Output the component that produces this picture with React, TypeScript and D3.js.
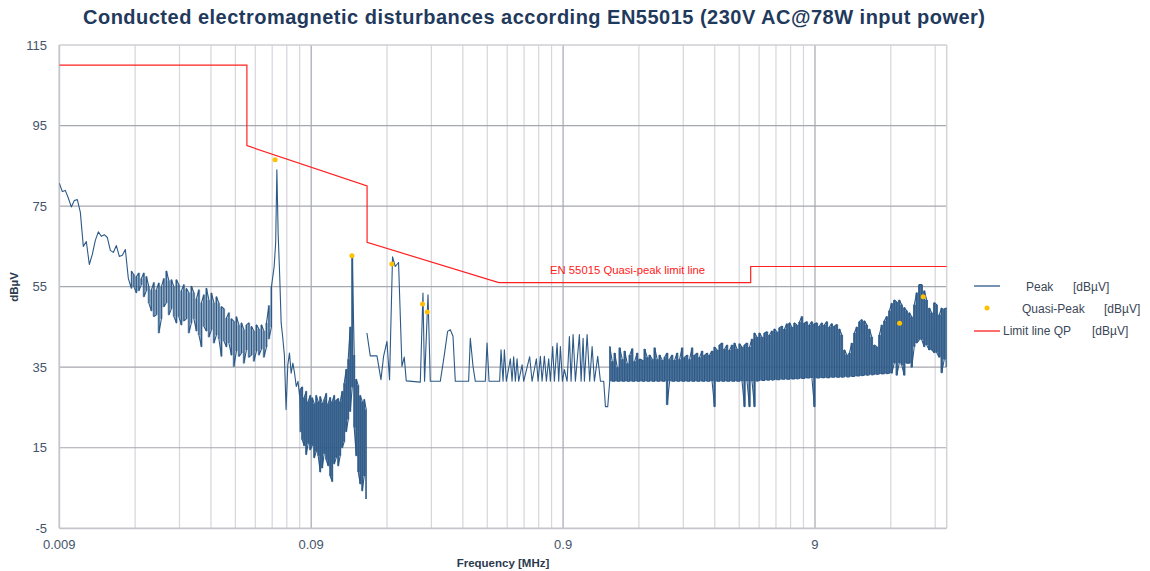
import React from "react";
import * as d3 from "d3";

// ---------- data ----------
const TITLE = "Conducted electromagnetic disturbances according EN55015 (230V AC@78W input power)";
const xTickValues = [0.009, 0.09, 0.9, 9];
const xTickLabels = ["0.009", "0.09", "0.9", "9"];
const yTickValues = [-5, 15, 35, 55, 75, 95, 115];

const limitFreqs = [0.009, 0.05, 0.05, 0.15, 0.15, 0.5, 5, 5, 30];
const limitLevels = [110, 110, 90, 80, 66, 56, 56, 60, 60];

const qpFreqs = [0.0647, 0.1306, 0.188, 0.249, 0.26, 19.5, 24.2];
const qpLevels = [86.5, 62.7, 60.6, 50.7, 48.7, 45.9, 52.5];

// Peak trace, lowest part (sweep points, evenly spaced in log f)
const peakARange = [0.009, 0.01692];
const peakAValues = [
  80.7, 78.6, 78.9, 77.0, 74.8, 76.4, 76.6, 73.5, 65.0, 66.2, 60.5, 63.0, 66.5, 68.6, 67.5, 67.9,
  67.2, 64.0, 63.5, 65.2, 62.5, 62.8, 64.2, 57.0,
];
// noisy part 0.017 - 0.063 MHz : max / min per sweep column
const bandARange = [0.01739, 0.06259];
const bandAHi = [
  58.8, 58.0, 57.5, 58.4, 57.0, 58.4, 57.5, 55.0, 54.2, 56.0, 54.2, 55.9, 55.0, 57.0, 58.9, 56.5,
  56.7, 55.0, 56.7, 55.5, 54.0, 55.5, 54.5, 53.5, 55.1, 53.5, 52.0, 54.2, 51.0, 53.0, 54.6, 51.7,
  53.4, 51.0, 52.5, 50.9, 50.0, 49.5, 47.2, 48.5, 47.0, 46.4, 47.5, 45.5, 46.0, 44.3, 45.5, 46.0,
  45.1, 44.0, 45.5, 44.5, 45.5, 44.0, 46.0, 50.3, 55.0,
];
const bandALo = [
  54.6, 55.0, 53.5, 54.0, 55.5, 52.5, 54.0, 50.9, 49.0, 47.6, 48.0, 43.5, 47.0, 50.0, 51.0, 48.0,
  49.5, 47.6, 46.0, 47.5, 45.5, 46.5, 47.0, 43.5, 46.0, 47.0, 44.0, 43.0, 40.1, 45.1, 44.0, 42.5,
  44.3, 41.0, 43.0, 42.0, 37.7, 41.5, 40.1, 41.0, 38.0, 35.2, 39.0, 37.7, 38.5, 36.0, 39.3, 37.5,
  38.0, 36.5, 39.0, 38.0, 39.5, 37.5, 40.0, 42.0, 45.0,
];
const peakSpikeFreqs = [0.06416, 0.06505, 0.06576, 0.06655, 0.06746, 0.06839];
const peakSpikeValues = [60, 66, 84, 68, 58, 46];
const peakTailRange = [0.06935, 0.081];
const peakTailValues = [42.5, 38, 24.5, 35.5, 38.5, 33.5, 36, 33.5, 30.2, 31.5, 27.7];

// dense part 0.081 - 0.149 MHz : max / min per sweep column
const band1Range = [0.08138, 0.14886];
const band1Hi = [
  29.5, 30.1, 27.5, 29.0, 26.5, 28.0, 27.4, 26.0, 28.0, 26.5, 27.7, 26.2, 27.0, 28.5, 26.0, 27.5, 26.5,
  28.0, 26.8, 27.2, 26.5, 29.0, 31.0, 34.5, 37.0, 45.0, 63.0, 38.0, 32.0, 30.5, 28.0, 26.5, 27.0, 24.5,
];
const band1Lo = [
  19.0, 17.0, 15.5, 13.3, 16.0, 14.5, 15.5, 12.5, 14.0, 13.0, 9.0, 10.0, 13.5, 12.0, 10.5, 8.0, 6.6,
  11.0, 12.5, 10.5, 13.0, 15.0, 16.5, 19.0, 22.0, 24.0, 30.0, 20.0, 13.0, 9.0, 6.0, 4.3, 8.0, 2.3,
];

// sparse part 0.15 - 1.35 MHz
const sparseFreqs = [
  0.1498, 0.1544, 0.1642, 0.1703, 0.1744, 0.1799, 0.1842, 0.1893, 0.1941, 0.2, 0.2063, 0.2107, 0.2146,
  0.244, 0.25, 0.2537, 0.2618, 0.2673, 0.2929, 0.3038, 0.3132, 0.321, 0.329, 0.336, 0.3795, 0.3854,
  0.3951, 0.4035, 0.4421, 0.4491, 0.4574, 0.5039, 0.5104, 0.5199, 0.5261, 0.5358, 0.5558, 0.5645,
  0.5728, 0.5818, 0.5909, 0.5996, 0.6186, 0.6277, 0.6631, 0.6778, 0.705, 0.7161, 0.7313, 0.7428,
  0.7585, 0.7726, 0.789, 0.8013, 0.8184, 0.8312, 0.852, 0.8646, 0.8781, 0.8943, 0.9108, 0.9336,
  0.9534, 0.9683, 0.9862, 1.0072, 1.0447, 1.0611, 1.0807, 1.0936, 1.121, 1.148, 1.1734, 1.1984,
  1.2351, 1.266, 1.3048, 1.3253, 1.3535,
];
const sparseValues = [
  43.5, 37.8, 37.8, 31.9, 37.7, 41.4, 31.9, 62.4, 60, 61, 35.2, 37.5, 31.6,
  31.3, 53.4, 31.5, 53, 31.5, 31.5, 38, 43.9, 44.3, 42.7, 31.5, 31.5, 42.2,
  35.2, 31.5, 31.5, 41, 31.5, 31.5, 39.3, 31.5, 39.3, 31.5, 37.1, 31.5,
  37.6, 31.5, 37.1, 31.5, 35.6, 31.5, 37.6, 31.5, 37.1, 31.5, 37.7, 31.5,
  37.7, 31.5, 37.1, 31.5, 40.1, 31.5, 41, 31.5, 40.1, 31.5, 34.4, 31.5,
  42.6, 31.5, 43.1, 31.5, 43.1, 31.5, 42.2, 31.5, 43.1, 31.5, 40.1, 31.5,
  37.7, 31.5, 31.5, 25.2, 25.2,
];

// dense part 1.38 - 30 MHz : max / min per sweep column
const band2Range = [1.3784, 30];
const band2Hi = [
  40.1, 36.5, 38.5, 35.0, 39.8, 37.0, 39.0, 36.0, 38.0, 39.6,
  36.5, 38.5, 37.0, 36.8, 39.5, 37.5, 38.0, 37.0, 39.8, 37.0,
  38.0, 36.8, 37.5, 38.5, 37.0, 38.0, 36.8, 38.5, 37.0, 39.8,
  37.5, 38.0, 37.0, 39.8, 38.0, 38.5, 37.5, 39.0, 38.0, 38.5,
  38.0, 39.0, 40.0, 39.3, 40.5, 41.0, 39.5, 40.5, 39.3, 40.5,
  41.0, 39.5, 40.8, 40.0, 40.5, 41.0, 40.0, 42.0, 43.5, 42.5,
  43.5, 42.5, 43.5, 43.8, 43.0, 44.0, 44.5, 43.8, 44.8, 45.2,
  44.5, 45.8, 46.0, 45.0, 46.0, 45.5, 46.2, 47.6, 46.0, 46.3,
  45.5, 46.3, 45.8, 46.0, 45.2, 46.0, 45.5, 46.3, 45.0, 45.8,
  45.2, 45.6, 44.5, 43.0, 39.3, 38.1, 38.5, 41.0, 43.5, 45.0,
  46.3, 46.8, 46.5, 45.5, 44.5, 42.5, 40.5, 40.1, 43.0, 45.5,
  46.5, 47.6, 49.0, 50.9, 51.7, 51.2, 51.7, 50.5, 49.8, 49.0,
  48.5, 47.5, 50.5, 53.5, 55.5, 55.5, 54.0, 51.7, 49.7, 48.5,
  51.0, 50.5, 48.0, 49.7, 49.5, 49.7,
];
const band2Lo = [
  31.5, 31.5, 31.5, 31.5, 31.5, 31.5, 31.5, 31.5, 31.5, 31.5,
  31.5, 31.5, 31.5, 31.5, 31.5, 31.5, 31.5, 31.5, 31.5, 31.5,
  31.5, 31.5, 31.5, 25.7, 31.5, 31.5, 31.5, 31.5, 31.5, 31.5,
  31.5, 31.5, 31.5, 31.5, 31.5, 31.5, 31.5, 31.5, 31.5, 31.5,
  31.5, 31.5, 25.2, 31.5, 31.5, 31.5, 31.5, 31.5, 31.5, 31.5,
  31.5, 31.5, 31.5, 31.5, 25.2, 31.5, 25.2, 31.5, 25.2, 31.5,
  31.7, 31.7, 31.7, 31.8, 31.8, 31.8, 31.9, 31.9, 31.9, 32.0,
  32.0, 32.0, 32.0, 32.1, 32.1, 32.1, 32.2, 32.2, 32.2, 32.3,
  32.3, 32.3, 25.2, 32.3, 32.3, 32.4, 32.4, 32.4, 32.4, 32.5,
  32.5, 32.5, 32.5, 32.5, 32.6, 32.6, 32.6, 32.7, 32.7, 32.8,
  32.8, 32.9, 33.0, 33.0, 33.1, 33.1, 33.2, 33.2, 33.3, 33.3,
  33.4, 33.4, 33.5, 33.5, 36.0, 33.0, 36.0, 35.5, 33.0, 36.0,
  36.0, 35.0, 40.1, 41.0, 41.8, 41.8, 40.1, 40.5, 39.3, 39.3,
  38.6, 38.6, 37.5, 33.6, 36.9, 35.0,
];

// ---------- helpers ----------
type P = [number, number];
type B = [number, number, number];
const sweep = (range: number[], n: number) =>
  d3.range(n).map((i) => range[0] * Math.pow(range[1] / range[0], n === 1 ? 0 : i / (n - 1)));
const linePts = (freqs: number[], vals: number[]): P[] => freqs.map((f, i) => [f, vals[i]] as P);
const bandCols = (range: number[], hi: number[], lo: number[]): B[] =>
  sweep(range, hi.length).map((f, i) => [f, lo[i], hi[i]] as B);
const bandPts = (cols: B[]): P[] => {
  const out: P[] = [];
  cols.forEach((c, i) => {
    if (i % 2 === 0) { out.push([c[0], c[1]]); out.push([c[0], c[2]]); }
    else { out.push([c[0], c[2]]); out.push([c[0], c[1]]); }
  });
  return out;
};

const W = 1150, H = 571;
const PL = 59.3, PR = 946.7, PT = 45, PB = 528.3;
const FONT = "'Liberation Sans', Arial, sans-serif";
const TICK_COLOR = "#44546a";
const PEAK_COLOR = "#2d5987";

export default function App() {
  const x = d3.scaleLog().domain([0.009, 30]).range([PL, PR]);
  const y = d3.scaleLinear().domain([-5, 115]).range([PB, PT]);
  const line = d3.line<P>().x((d) => x(d[0])).y((d) => y(d[1]));
  const area = d3.area<B>().x((d) => x(d[0])).y0((d) => y(d[1])).y1((d) => y(d[2])).curve(d3.curveStep);

  const colsA = bandCols(bandARange, bandAHi, bandALo);
  const cols1 = bandCols(band1Range, band1Hi, band1Lo);
  const cols2 = bandCols(band2Range, band2Hi, band2Lo);
  const bandOpacity = [0.5, 0.85, 0.85];

  const trace1: P[] = [
    ...linePts(sweep(peakARange, peakAValues.length), peakAValues),
    ...bandPts(colsA),
    ...linePts(peakSpikeFreqs, peakSpikeValues),
    ...linePts(sweep(peakTailRange, peakTailValues.length), peakTailValues),
    ...bandPts(cols1),
  ];
  const trace2: P[] = [...linePts(sparseFreqs, sparseValues), ...bandPts(cols2)];
  const limit = linePts(limitFreqs, limitLevels);

  const minor: number[] = [];
  xTickValues.forEach((b) => {
    for (let k = 2; k <= 9; k++) if (b * k < 30) minor.push(b * k);
  });

  return (
    <svg width={W} height={H} style={{ position: "absolute", left: 0, top: 0, background: "#fff" }} fontFamily={FONT}>
      <defs>
        <clipPath id="plotclip">
          <rect x={PL} y={PT - 1} width={PR - PL} height={PB - PT + 2} />
        </clipPath>
      </defs>
      <text x={534} y={24} textAnchor="middle" fontSize={20} fontWeight="bold" fill="#1f3a5c" textLength={902} lengthAdjust="spacing">
        {TITLE}
      </text>

      {/* grid */}
      {minor.map((f) => (
        <line key={"m" + f} x1={x(f)} x2={x(f)} y1={PT} y2={PB} stroke="#d6d6db" strokeWidth={1.2} />
      ))}
      {xTickValues.slice(1).map((f) => (
        <line key={"M" + f} x1={x(f)} x2={x(f)} y1={PT} y2={PB} stroke="#a4a7ae" strokeWidth={1.2} />
      ))}
      {yTickValues.slice(1, -1).map((v) => (
        <line key={"h" + v} x1={PL} x2={PR} y1={y(v)} y2={y(v)} stroke="#a4a7ae" strokeWidth={1.2} />
      ))}
      <line x1={PL} x2={PR} y1={PT} y2={PT} stroke="#cfcfd4" strokeWidth={1.5} />
      <line x1={PR} x2={PR} y1={PT} y2={PB} stroke="#d4d4d8" strokeWidth={1.5} />
      <line x1={PL} x2={PL} y1={PT} y2={PB} stroke="#c4c5ca" strokeWidth={1.8} />
      <line x1={PL} x2={PR} y1={PB} y2={PB} stroke="#c4c5ca" strokeWidth={1.8} />

      {/* ticks */}
      {yTickValues.map((v) => (
        <text key={"yt" + v} x={47} y={y(v) + 4.5} textAnchor="end" fontSize={13} fill={TICK_COLOR}>
          {v}
        </text>
      ))}
      {xTickValues.map((f, i) => (
        <text key={"xt" + f} x={x(f)} y={549} textAnchor="middle" fontSize={13} fill={TICK_COLOR}>
          {xTickLabels[i]}
        </text>
      ))}
      <text x={503} y={567} textAnchor="middle" fontSize={11.5} fontWeight="bold" fill="#2b3a4e">
        Frequency [MHz]
      </text>
      <text transform="translate(18,287) rotate(-90)" textAnchor="middle" fontSize={11.5} fontWeight="bold" fill="#2b3a4e">
        dBµV
      </text>

      {/* series */}
      <g clipPath="url(#plotclip)">
        {[colsA, cols1, cols2].map((c, i) => (
          <path key={"ar" + i} d={area(c) || ""} fill={PEAK_COLOR} fillOpacity={bandOpacity[i]} stroke="none" />
        ))}
        <path d={line(trace1) || ""} fill="none" stroke={PEAK_COLOR} strokeWidth={1.1} strokeLinejoin="round" />
        <path d={line(trace2) || ""} fill="none" stroke={PEAK_COLOR} strokeWidth={1.1} strokeLinejoin="round" />
        <path d={line(limit) || ""} fill="none" stroke="#ff2020" strokeWidth={1.2} />
        {qpFreqs.map((f, i) => (
          <circle key={"qp" + i} cx={x(f)} cy={y(qpLevels[i])} r={2.5} fill="#ffc000" />
        ))}
      </g>
      <text x={550} y={274} fontSize={11.3} fill="#ff2020">
        EN 55015 Quasi-peak limit line
      </text>

      {/* legend */}
      <line x1={974} x2={1000} y1={286} y2={286} stroke={PEAK_COLOR} strokeWidth={1.3} />
      <text x={1026} y={290.5} fontSize={12} fill="#3b4656">Peak</text>
      <text x={1073} y={290.5} fontSize={12} fill="#3b4656">[dBµV]</text>
      <circle cx={987} cy={308} r={2.5} fill="#ffc000" />
      <text x={1022} y={312.5} fontSize={12} fill="#3b4656">Quasi-Peak</text>
      <text x={1104} y={312.5} fontSize={12} fill="#3b4656">[dBµV]</text>
      <line x1={974} x2={1000} y1={331} y2={331} stroke="#ff2020" strokeWidth={1.3} />
      <text x={1003} y={334.5} fontSize={12} fill="#3b4656">Limit line QP</text>
      <text x={1092} y={334.5} fontSize={12} fill="#3b4656">[dBµV]</text>
    </svg>
  );
}
